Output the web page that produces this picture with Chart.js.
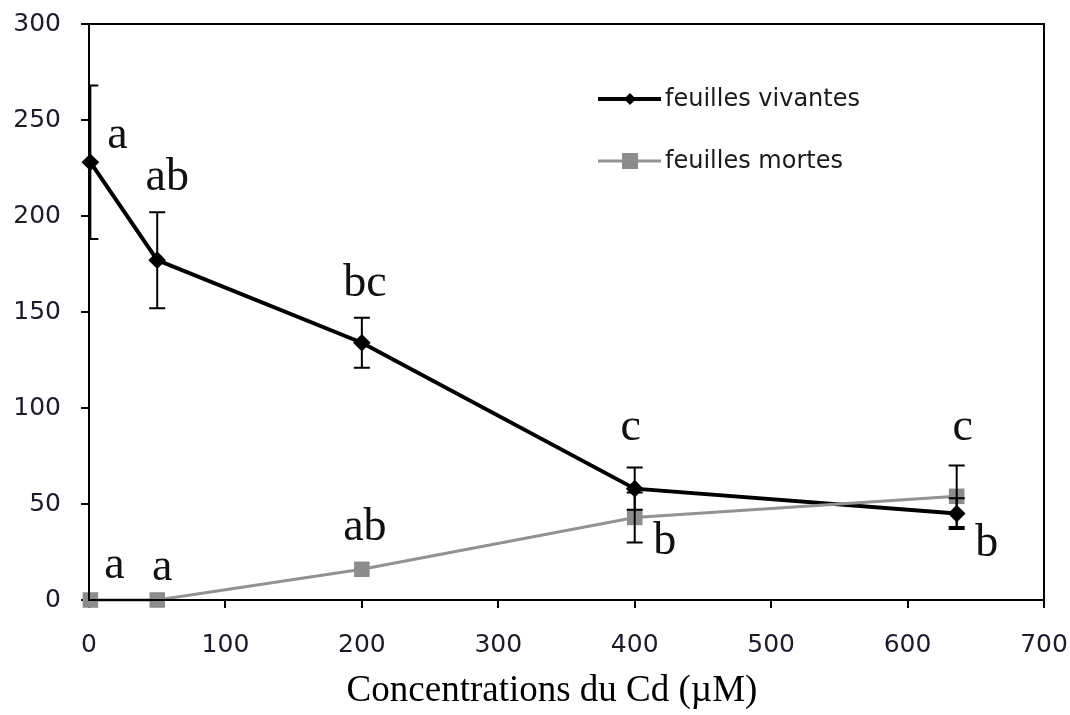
<!DOCTYPE html>
<html>
<head>
<meta charset="utf-8">
<script src="https://cdn.jsdelivr.net/npm/chart.js@4/dist/chart.umd.min.js"></script>
<style>
  html, body { margin: 0; padding: 0; background: #fff; }
  #wrap { width: 1070px; height: 715px; }
</style>
</head>
<body>
<div id="wrap"><canvas id="graphe" width="1070" height="715"></canvas></div>
<script>
// concentrations en Cd (µM)
const concentrations = [1, 50, 200, 400, 636];

const vivantes = [228, 177, 134, 58, 45];
const vivantesErr = [40, 25, 13, 11, 8];
const lettresVivantes = ['a', 'ab', 'bc', 'c', 'c'];

const mortes = [0, 0, 16, 43, 54];
const mortesErr = [0, 0, 0, 13, 16];
const lettresMortes = ['a', 'a', 'ab', 'b', 'b'];

const xTicks = [0, 100, 200, 300, 400, 500, 600, 700];
const yTicks = [0, 50, 100, 150, 200, 250, 300];
const titreX = 'Concentrations du Cd (µM)';

const toPoints = (ys) => concentrations.map((x, i) => ({ x, y: ys[i] }));

const policeTicks = { family: 'DejaVu Sans', size: 25 };
const policeSerif = 'Liberation Serif';

// cadre autour de la zone de tracé + titre de l'axe x
const cadre = {
    id: 'cadre',
    afterDraw(chart) {
        const { ctx, chartArea: a } = chart;
        ctx.save();
        ctx.strokeStyle = '#000';
        ctx.lineWidth = 2;
        ctx.strokeRect(a.left, a.top, a.right - a.left, a.bottom - a.top);
        ctx.fillStyle = '#000';
        ctx.font = `37px "${policeSerif}"`;
        ctx.textAlign = 'center';
        ctx.textBaseline = 'alphabetic';
        ctx.fillText(titreX, 552, 701);
        ctx.restore();
    }
};

// barres d'erreur + lettres de significativité
const erreurs = {
    id: 'erreurs',
    afterDatasetsDraw(chart) {
        const { ctx, chartArea: a, scales: { x, y } } = chart;
        ctx.save();
        ctx.beginPath();
        ctx.rect(a.left, 0, chart.width - a.left, chart.height);
        ctx.clip();
        chart.data.datasets.forEach(ds => {
            ds.err.forEach((e, i) => {
                if (!e) return;
                const px = x.getPixelForValue(concentrations[i]);
                const hi = y.getPixelForValue(ds.valeurs[i] + e);
                const lo = y.getPixelForValue(ds.valeurs[i] - e);
                ctx.strokeStyle = '#000';
                ctx.lineWidth = 2;
                ctx.beginPath();
                ctx.moveTo(px, hi); ctx.lineTo(px, lo);
                ctx.moveTo(px - 8, hi); ctx.lineTo(px + 8, hi);
                ctx.moveTo(px - 8, lo); ctx.lineTo(px + 8, lo);
                ctx.stroke();
            });
        });
        ctx.restore();
        ctx.save();
        ctx.fillStyle = '#111';
        ctx.font = `46px "${policeSerif}"`;
        ctx.textAlign = 'center';
        ctx.textBaseline = 'alphabetic';
        chart.data.datasets.forEach(ds => {
            ds.lettres.forEach((l, i) => {
                const px = x.getPixelForValue(concentrations[i]);
                const py = y.getPixelForValue(ds.valeurs[i]);
                const [dx, dy] = ds.decalages[i];
                ctx.fillText(l, px + dx, py + dy);
            });
        });
        ctx.restore();
    }
};

// légende dans la zone de tracé
const legende = {
    id: 'legende',
    afterDraw(chart) {
        const { ctx } = chart;
        const lignes = [{ ds: chart.data.datasets[0], y: 99 }, { ds: chart.data.datasets[1], y: 161 }];
        ctx.save();
        lignes.forEach(({ ds, y }) => {
            ctx.strokeStyle = ds.borderColor;
            ctx.lineWidth = ds.borderWidth;
            ctx.beginPath();
            ctx.moveTo(598, y); ctx.lineTo(661, y);
            ctx.stroke();
            ctx.fillStyle = ds.pointBackgroundColor;
            if (ds.pointStyle === 'rect') {
                ctx.fillRect(622, y - 8, 16, 16);
            } else {
                ctx.beginPath();
                ctx.moveTo(630, y - 6); ctx.lineTo(636, y); ctx.lineTo(630, y + 6); ctx.lineTo(624, y);
                ctx.closePath();
                ctx.fill();
            }
            ctx.fillStyle = '#1a1a1a';
            ctx.font = '24px "DejaVu Sans"';
            ctx.textAlign = 'left';
            ctx.textBaseline = 'middle';
            ctx.fillText(ds.label, 665, y + 1);
        });
        ctx.restore();
    }
};

new Chart(document.getElementById('graphe'), {
    type: 'line',
    data: {
        datasets: [
            {
                label: 'feuilles vivantes',
                data: toPoints(vivantes),
                valeurs: vivantes,
                err: vivantesErr,
                lettres: lettresVivantes,
                decalages: [[27, -14], [10, -70], [3, -47], [-4, -49], [6, -74]],
                borderColor: '#000',
                borderWidth: 4,
                pointStyle: 'rectRot',
                pointRadius: 6,
                pointBackgroundColor: '#000',
                pointBorderColor: '#000',
                tension: 0,
                clip: false,
                order: 2
            },
            {
                label: 'feuilles mortes',
                data: toPoints(mortes),
                valeurs: mortes,
                err: mortesErr,
                lettres: lettresMortes,
                decalages: [[24, -22], [5, -20], [3, -29], [30, 37], [30, 60]],
                borderColor: '#929292',
                borderWidth: 3,
                pointStyle: 'rect',
                pointRadius: 11,
                pointBackgroundColor: '#8c8c8c',
                pointBorderColor: '#8c8c8c',
                pointBorderWidth: 0,
                tension: 0,
                clip: false,
                order: 1
            }
        ]
    },
    options: {
        responsive: false,
        animation: false,
        layout: { padding: { top: 24, right: 26, left: 0, bottom: 0 } },
        plugins: { legend: { display: false }, tooltip: { enabled: false } },
        scales: {
            x: {
                type: 'linear',
                min: 0,
                max: 700,
                afterBuildTicks: (s) => { s.ticks = xTicks.map(v => ({ value: v })); },
                afterFit: (s) => { s.height = 115; s.paddingLeft = 0; s.paddingRight = 0; },
                ticks: { font: policeTicks, color: '#1c1c28', padding: 22 },
                grid: { drawOnChartArea: false, tickLength: 8, color: '#000', lineWidth: 2 },
                border: { color: '#000', width: 2 }
            },
            y: {
                min: 0,
                max: 300,
                afterBuildTicks: (s) => { s.ticks = yTicks.map(v => ({ value: v })); },
                afterFit: (s) => { s.width = 89; s.paddingTop = 0; s.paddingBottom = 0; },
                ticks: { font: policeTicks, color: '#1c1c28', padding: 20 },
                grid: { drawOnChartArea: false, tickLength: 8, color: '#000', lineWidth: 2 },
                border: { color: '#000', width: 2 }
            }
        }
    },
    plugins: [cadre, erreurs, legende]
});
</script>
</body>
</html>
